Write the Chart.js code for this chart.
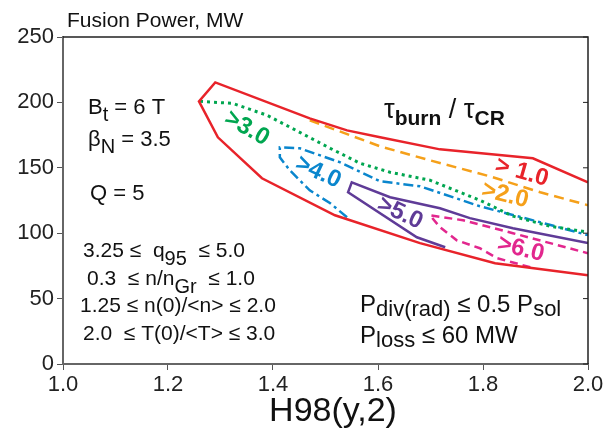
<!DOCTYPE html>
<html lang="en">
<head>
<meta charset="UTF-8">
<title>Fusion Power, MW</title>
<script src="https://cdn.jsdelivr.net/npm/chart.js"></script>
<style>
  html, body { margin: 0; padding: 0; background: #fff; }
  #wrap { width: 612px; height: 430px; position: relative; }
</style>
</head>
<body>
<div id="wrap"><canvas id="fusionChart" width="612" height="430"></canvas></div>
<script>
// tick labels
const xTicks = [1.0, 1.2, 1.4, 1.6, 1.8, 2.0];
const yTicks = [0, 50, 100, 150, 200, 250];

// outer Q=5 operating window (red)
const outerH = [2.0, 1.823, 1.680, 1.518, 1.379, 1.295, 1.259, 1.290, 1.470, 1.541, 1.604, 1.718, 1.895, 2.0];
const outerP = [67.9, 77.1, 92.4, 113.7, 142.0, 173.3, 200.8, 215.3, 187.8, 178.6, 173.3, 164.1, 157.3, 138.9];

// tau_burn/tau_CR > 2.0 (orange)
const orangeH = [1.470, 1.604, 1.699, 1.813, 1.909, 2.0];
const orangeP = [186.3, 166.4, 155.7, 143.5, 131.3, 121.4];

// > 3.0 (green)
const greenH = [1.261, 1.324, 1.389, 1.451, 1.509, 1.566, 1.623, 1.699, 1.794, 1.857, 1.928, 2.0];
const greenP = [200.8, 199.2, 190.1, 177.1, 164.9, 153.4, 146.6, 140.5, 125.2, 113.0, 105.3, 100.8];

// > 4.0 (blue)
const blueH = [1.541, 1.509, 1.470, 1.432, 1.413, 1.413, 1.451, 1.528, 1.604, 1.680, 1.794, 1.909, 2.0];
const blueP = [112.2, 122.9, 132.8, 148.1, 158.0, 165.6, 164.9, 154.2, 139.7, 135.9, 120.6, 108.4, 98.5];

// > 5.0 (purple)
const purpleH = [1.728, 1.674, 1.543, 1.550, 1.623, 1.718, 1.775, 1.857, 2.0];
const purpleP = [89.3, 96.9, 131.3, 138.9, 127.5, 119.1, 111.5, 103.8, 92.4];

// > 6.0 (magenta)
const magentaH = [1.890, 1.827, 1.794, 1.750, 1.718, 1.699, 1.762, 1.857, 1.928, 2.0];
const magentaP = [74.0, 80.9, 88.5, 94.6, 104.6, 113.7, 109.9, 100.0, 92.4, 84.7];

// contour labels
const levelText = ['> 1.0', '>2.0', '>3.0', '>4.0', '>5.0', '>6.0'];
const levelH = [1.874, 1.842, 1.350, 1.486, 1.642, 1.872];
const levelP = [146.6, 129.0, 180.2, 146.6, 115.3, 87.8];

const FONT = '"Liberation Sans", Arial, Helvetica, sans-serif';
const levelColor = ['#e8232a', '#f5a01a', '#00a650', '#0a86cd', '#5f3b97', '#e2278e'];
const levelAngle = [16, 14, 30, 25, 25, 14];

function pts(hs, ps) {
    return hs.map((h, i) => ({ x: h, y: ps[i] }));
}

function line(hs, ps, color, dash, width) {
    return {
        data: pts(hs, ps),
        showLine: true,
        borderColor: color,
        borderWidth: width,
        borderDash: dash,
        pointRadius: 0,
        tension: 0,
        fill: false
    };
}

// draws text pieces one after another, some of them lowered as subscripts
function rich(ctx, x, y, parts, size, subSize, drop) {
    let cx = x;
    parts.forEach(p => {
        const isSub = p[1] === 1;
        const weight = p[2] ? 'bold ' : '';
        ctx.font = weight + (isSub ? subSize : size) + 'px ' + FONT;
        ctx.fillText(p[0], cx, isSub ? y + drop : y);
        cx += ctx.measureText(p[0]).width;
    });
}

const decorations = {
    id: 'decorations',
    afterDraw(chart) {
        const ctx = chart.ctx;
        const a = chart.chartArea;
        const xs = chart.scales.x, ys = chart.scales.y;
        ctx.save();

        // top and right frame, inner ticks on right
        ctx.strokeStyle = '#222';
        ctx.lineWidth = 1.5;
        ctx.beginPath();
        ctx.moveTo(a.left, a.top);
        ctx.lineTo(a.right, a.top);
        ctx.lineTo(a.right, a.bottom);
        ctx.stroke();
        ctx.lineWidth = 1;
        yTicks.forEach(v => {
            const py = ys.getPixelForValue(v);
            ctx.beginPath();
            ctx.moveTo(a.right, py);
            ctx.lineTo(a.right - 5, py);
            ctx.stroke();
        });

        // title and x axis title
        ctx.fillStyle = '#111';
        ctx.textBaseline = 'alphabetic';
        ctx.font = '21px ' + FONT;
        ctx.fillText('Fusion Power, MW', 67, 27);
        ctx.font = '34px ' + FONT;
        ctx.textAlign = 'center';
        ctx.fillText('H98(y,2)', 333, 421);

        // contour level labels
        levelText.forEach((t, i) => {
            ctx.save();
            ctx.translate(xs.getPixelForValue(levelH[i]), ys.getPixelForValue(levelP[i]));
            ctx.rotate(levelAngle[i] * Math.PI / 180);
            ctx.font = 'bold 24px ' + FONT;
            ctx.fillStyle = levelColor[i];
            ctx.textAlign = 'center';
            ctx.textBaseline = 'middle';
            ctx.fillText(t, 0, 0);
            ctx.restore();
        });

        ctx.fillStyle = '#111';
        ctx.textAlign = 'left';
        ctx.textBaseline = 'alphabetic';

        // tau_burn / tau_CR
        rich(ctx, 384, 118, [['\u03c4', 0], ['burn', 1, true], [' / \u03c4', 0], ['CR', 1, true]], 27, 21, 7);

        // machine parameters
        rich(ctx, 88, 114, [['B', 0], ['t', 1], [' = 6 T', 0]], 22, 20, 7);
        rich(ctx, 88, 146, [['\u03b2', 0], ['N', 1], [' = 3.5', 0]], 22, 20, 7);
        rich(ctx, 90, 200, [['Q = 5', 0]], 22, 20, 7);

        rich(ctx, 83, 257, [['3.25 \u2264  q', 0], ['95', 1], ['  \u2264 5.0', 0]], 21, 20, 8);
        rich(ctx, 87, 285, [['0.3  \u2264 n/n', 0], ['Gr', 1], ['  \u2264 1.0', 0]], 21, 20, 8);
        rich(ctx, 80, 312, [['1.25 \u2264 n(0)/<n> \u2264 2.0', 0]], 21, 20, 8);
        rich(ctx, 83, 340, [['2.0  \u2264 T(0)/<T> \u2264 3.0', 0]], 21, 20, 8);

        rich(ctx, 360, 312, [['P', 0], ['div(rad)', 1], [' \u2264 0.5 P', 0], ['sol', 1]], 24, 22, 4);
        rich(ctx, 360, 343, [['P', 0], ['loss', 1], [' \u2264 60 MW', 0]], 24, 22, 4);

        ctx.restore();
    }
};

const ctx = document.getElementById('fusionChart').getContext('2d');
new Chart(ctx, {
    type: 'scatter',
    data: {
        datasets: [
            line(outerH, outerP, '#e8232a', [], 2.5),
            line(orangeH, orangeP, '#f5a01a', [10, 6], 2.5),
            line(greenH, greenP, '#00a650', [3, 4], 3),
            line(blueH, blueP, '#0a86cd', [10, 4, 3, 4], 2.5),
            line(purpleH, purpleP, '#5f3b97', [], 2.5),
            line(magentaH, magentaP, '#e2278e', [8, 5], 2.5)
        ]
    },
    options: {
        responsive: false,
        animation: false,
        layout: { padding: { top: 37, right: 24, left: 0, bottom: 0 } },
        plugins: {
            legend: { display: false },
            tooltip: { enabled: false }
        },
        scales: {
            x: {
                type: 'linear',
                min: 1.0,
                max: 2.0,
                afterFit: s => { s.height = 66; },
                afterBuildTicks: s => { s.ticks = xTicks.map(v => ({ value: v })); },
                ticks: {
                    color: '#222',
                    font: { family: FONT, size: 22 },
                    padding: 2,
                    maxRotation: 0,
                    callback: v => v.toFixed(1)
                },
                grid: { drawOnChartArea: false, tickLength: 6, color: '#555' },
                border: { color: '#666', width: 2 }
            },
            y: {
                min: 0,
                max: 250,
                afterFit: s => { s.width = 63; },
                afterBuildTicks: s => { s.ticks = yTicks.map(v => ({ value: v })); },
                ticks: {
                    color: '#222',
                    font: { family: FONT, size: 22 },
                    padding: 3
                },
                grid: { drawOnChartArea: false, tickLength: 6, color: '#555' },
                border: { color: '#666', width: 2 }
            }
        }
    },
    plugins: [decorations]
});
</script>
</body>
</html>
